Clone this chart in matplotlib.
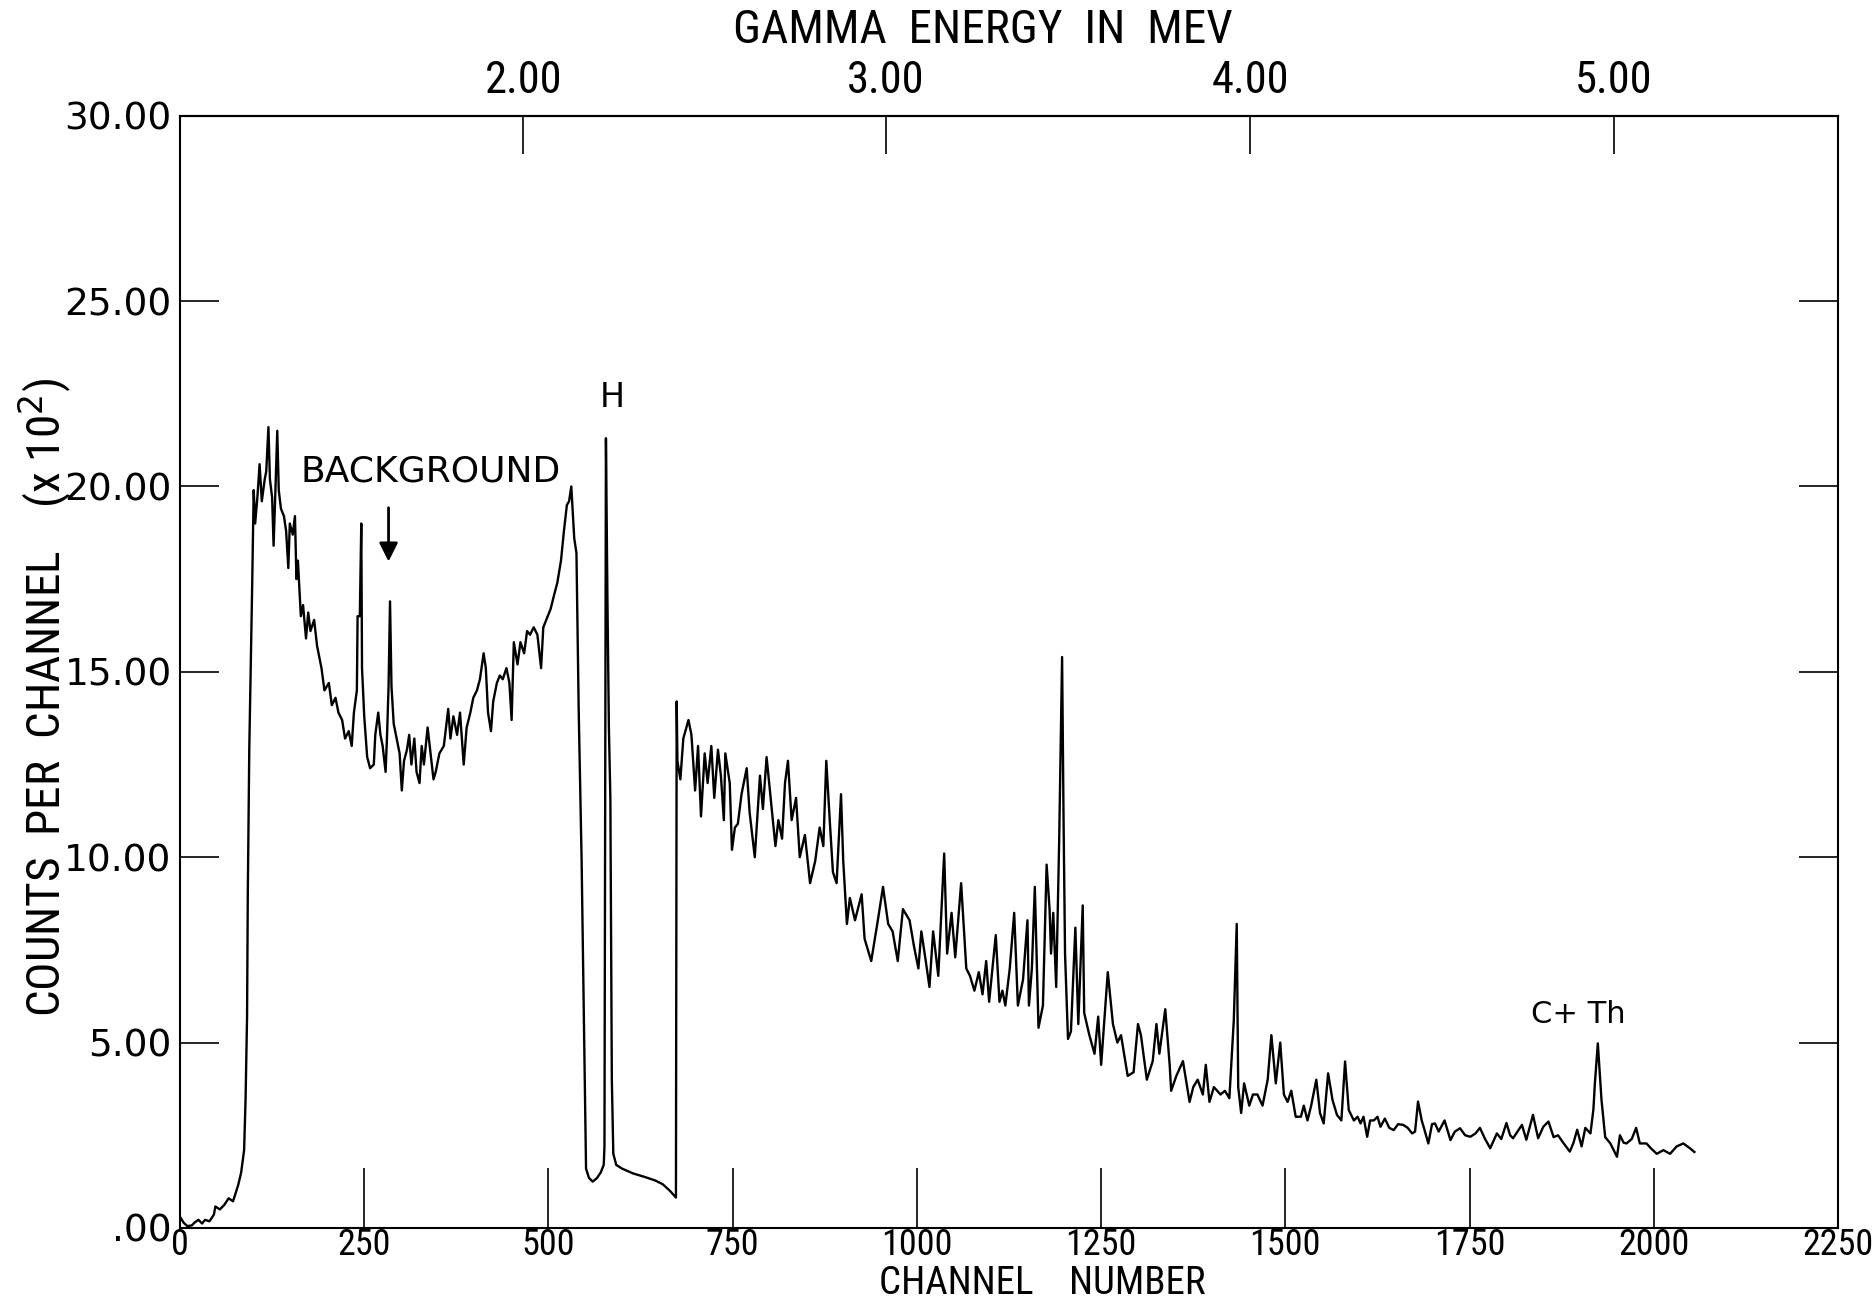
import os
import matplotlib
matplotlib.use('Agg')
import matplotlib.pyplot as plt
import matplotlib.font_manager as fm
from matplotlib.ticker import FixedLocator, FixedFormatter

# spectrum (channel, counts per channel / 100)
channels = [0, 5, 10, 16, 20, 25, 30, 34, 40, 46, 48, 54, 60, 66, 72, 79, 83, 87, 89, 91, 92,
            94, 96, 98, 100, 102, 105, 108, 111, 115, 117, 120, 122, 125, 127, 129, 132, 134, 137, 141, 144,
            147, 149, 153, 156, 158, 160, 164, 167, 171, 174, 177, 182, 186, 192, 196, 202, 206, 211, 215, 220,
            224, 229, 233, 236, 240, 241, 244, 246, 247, 250, 254, 258, 263, 265, 269, 272, 275, 279, 281, 283,
            285, 287, 290, 294, 298, 301, 304, 308, 311, 314, 318, 321, 325, 328, 331, 336, 340, 344, 347, 352,
            358, 364, 367, 371, 376, 380, 385, 389, 394, 398, 403, 407, 412, 415, 418, 422, 425, 430, 434, 438,
            443, 447, 450, 453, 458, 462, 467, 471, 475, 480, 485, 490, 493, 499, 503, 508, 512, 517, 521, 525,
            528, 531, 533, 535, 538, 541, 545, 551, 555, 560, 566, 571, 575, 576, 578, 580, 582, 584, 586, 588,
            592, 600, 615, 630, 645, 655, 665, 673, 674, 675, 679, 683, 690, 694, 699, 703, 707, 712, 716, 721,
            725, 730, 734, 738, 740, 746, 749, 753, 757, 762, 769, 773, 780, 787, 791, 796, 803, 808, 812, 817,
            821, 825, 830, 836, 841, 848, 855, 862, 868, 873, 877, 882, 886, 891, 897, 900, 905, 909, 916, 925,
            929, 938, 947, 954, 961, 967, 974, 981, 990, 996, 1002, 1006, 1012, 1017, 1022, 1029, 1037, 1041, 1047, 1052,
            1060, 1067, 1072, 1078, 1084, 1089, 1094, 1098, 1107, 1112, 1116, 1120, 1126, 1132, 1137, 1144, 1150, 1152, 1156, 1160,
            1165, 1171, 1176, 1180, 1182, 1185, 1189, 1193, 1197, 1199, 1201, 1205, 1209, 1215, 1219, 1225, 1227, 1234, 1241, 1246,
            1250, 1259, 1266, 1272, 1277, 1286, 1294, 1300, 1304, 1312, 1320, 1325, 1329, 1337, 1343, 1345, 1352, 1361, 1370, 1375,
            1381, 1388, 1392, 1397, 1403, 1412, 1418, 1424, 1430, 1434, 1436, 1440, 1444, 1451, 1456, 1462, 1469, 1476, 1481, 1487,
            1493, 1498, 1503, 1508, 1514, 1521, 1525, 1530, 1535, 1542, 1547, 1552, 1558, 1564, 1570, 1576, 1581, 1586, 1593, 1598,
            1602, 1606, 1611, 1615, 1620, 1625, 1629, 1635, 1641, 1647, 1653, 1660, 1666, 1672, 1676, 1680, 1685, 1688, 1694, 1699,
            1703, 1708, 1712, 1716, 1724, 1730, 1737, 1744, 1751, 1758, 1764, 1771, 1778, 1787, 1793, 1800, 1805, 1809, 1815, 1821,
            1827, 1836, 1843, 1850, 1857, 1864, 1870, 1877, 1886, 1891, 1896, 1902, 1907, 1914, 1918, 1920, 1924, 1929, 1934, 1941,
            1950, 1954, 1959, 1963, 1970, 1976, 1981, 1990, 1996, 2004, 2013, 2022, 2031, 2040, 2049, 2055]
counts = [0.3, 0.14, 0.05, 0.07, 0.15, 0.22, 0.12, 0.22, 0.18, 0.36, 0.58, 0.5, 0.62, 0.8, 0.72, 1.16, 1.5, 2.1, 3.5, 5.7, 9.0,
          12.9, 15.1, 17.4, 19.9, 19.0, 19.7, 20.6, 19.6, 20.2, 20.4, 21.6, 20.2, 19.7, 18.4, 19.6, 21.5, 19.9, 19.4, 19.2, 18.8,
          17.8, 19.0, 18.7, 19.2, 17.5, 18.0, 16.5, 16.8, 15.9, 16.6, 16.1, 16.4, 15.7, 15.1, 14.5, 14.7, 14.1, 14.3, 13.9, 13.7,
          13.2, 13.4, 13.0, 13.9, 14.5, 16.5, 16.5, 19.0, 15.1, 13.8, 12.7, 12.4, 12.5, 13.3, 13.9, 13.3, 13.0, 12.3, 13.3, 14.6,
          16.9, 14.6, 13.6, 13.2, 12.8, 11.8, 12.6, 12.9, 13.3, 12.5, 13.2, 12.3, 12.0, 13.0, 12.5, 13.5, 12.8, 12.1, 12.3, 12.8,
          13.0, 14.0, 13.2, 13.8, 13.3, 13.9, 12.5, 13.5, 13.9, 14.3, 14.5, 14.8, 15.5, 15.1, 13.9, 13.4, 14.2, 14.7, 14.9, 14.8,
          15.1, 14.7, 13.7, 15.8, 15.2, 15.8, 15.5, 16.1, 16.0, 16.2, 16.0, 15.1, 16.2, 16.5, 16.7, 17.1, 17.4, 18.0, 18.8, 19.5,
          19.6, 20.0, 19.3, 18.6, 18.2, 14.0, 9.9, 1.6, 1.35, 1.25, 1.35, 1.5, 1.7, 2.2, 21.3, 17.0, 13.5, 11.6, 4.0, 2.0,
          1.7, 1.6, 1.47, 1.38, 1.28, 1.18, 1.0, 0.82, 14.2, 12.6, 12.1, 13.2, 13.7, 13.3, 11.8, 13.0, 11.1, 12.8, 12.0, 13.0,
          11.6, 12.9, 12.2, 11.0, 12.8, 12.0, 10.2, 10.8, 10.9, 11.7, 12.4, 11.2, 10.0, 12.2, 11.3, 12.7, 11.3, 10.3, 11.0, 10.5,
          12.0, 12.6, 11.0, 11.6, 10.0, 10.6, 9.3, 9.9, 10.8, 10.3, 12.6, 10.9, 9.6, 9.3, 11.7, 9.9, 8.2, 8.9, 8.3, 9.0,
          7.8, 7.2, 8.3, 9.2, 8.2, 8.0, 7.2, 8.6, 8.3, 7.6, 7.0, 8.0, 7.2, 6.5, 8.0, 6.8, 10.1, 7.4, 8.5, 7.3,
          9.3, 7.0, 6.8, 6.4, 6.9, 6.3, 7.2, 6.1, 7.9, 6.1, 6.4, 6.0, 7.0, 8.5, 6.0, 6.7, 8.3, 6.0, 7.0, 9.2,
          5.4, 6.0, 9.8, 8.6, 7.4, 8.5, 6.5, 10.4, 15.4, 11.0, 7.4, 5.1, 5.3, 8.1, 5.5, 8.7, 5.8, 5.2, 4.7, 5.7,
          4.4, 6.9, 5.5, 5.0, 5.2, 4.1, 4.2, 5.5, 5.2, 4.0, 4.5, 5.5, 4.7, 5.9, 4.4, 3.7, 4.1, 4.5, 3.4, 3.8,
          4.0, 3.6, 4.4, 3.4, 3.8, 3.6, 3.7, 3.5, 5.6, 8.2, 3.8, 3.1, 3.9, 3.3, 3.6, 3.6, 3.3, 4.0, 5.2, 3.9,
          5.0, 3.6, 3.4, 3.7, 3.0, 3.0, 3.3, 2.9, 3.3, 4.0, 3.1, 2.82, 4.17, 3.45, 3.05, 2.9, 4.49, 3.18, 2.9, 3.0,
          2.82, 3.0, 2.46, 2.9, 2.9, 3.0, 2.73, 2.95, 2.7, 2.64, 2.8, 2.78, 2.7, 2.55, 2.6, 3.41, 2.9, 2.7, 2.28, 2.8,
          2.82, 2.6, 2.75, 2.9, 2.37, 2.6, 2.69, 2.5, 2.46, 2.55, 2.7, 2.4, 2.15, 2.55, 2.4, 2.83, 2.5, 2.42, 2.6, 2.78,
          2.38, 3.05, 2.42, 2.73, 2.87, 2.45, 2.5, 2.3, 2.06, 2.3, 2.65, 2.2, 2.7, 2.55, 3.2, 3.9, 4.98, 3.45, 2.45, 2.28,
          1.92, 2.5, 2.3, 2.28, 2.4, 2.7, 2.28, 2.28, 2.15, 2.0, 2.1, 2.0, 2.2, 2.28, 2.15, 2.05]

x_ticks = [0, 250, 500, 750, 1000, 1250, 1500, 1750, 2000, 2250]
y_ticks = [0, 5, 10, 15, 20, 25, 30]
y_labels = ['.00', '5.00', '10.00', '15.00', '20.00', '25.00', '30.00']
energy_labels = ['2.00', '3.00', '4.00', '5.00']
energy_channels = [466, 958, 1452, 1946]


def find_narrow():
    # look for a condensed face, the lettering on the original is tall and thin
    wanted = ['LiberationSansNarrow-Regular', 'RobotoCondensed-Regular', 'DejaVuSansCondensed.',
              'NotoSans-Condensed.', 'OpenSans-CondensedRegular', 'OpenSans_Condensed-Regular']
    files = [f.fname for f in fm.fontManager.ttflist]
    for w in wanted:
        for fn in files:
            if w in os.path.basename(fn):
                return fn
    return None


narrow_file = find_narrow()


def narrow_font(size):
    if narrow_file:
        return fm.FontProperties(fname=narrow_file, size=size)
    return fm.FontProperties(family='DejaVu Sans', size=size * 0.8)


fig = plt.figure(figsize=(18.75, 13.04), dpi=100)
ax = fig.add_axes([0.096, 0.0583, 0.8843, 0.853])

ax.plot(channels, counts, color='black', lw=1.7)

ax.set_xlim(0, 2250)
ax.set_ylim(0, 30)

for s in ax.spines.values():
    s.set_linewidth(1.5)

ax.xaxis.set_major_locator(FixedLocator(x_ticks))
ax.tick_params(axis='x', direction='in', length=43, width=1.2, pad=-1,
               bottom=True, top=False)
for lab in ax.get_xticklabels():
    lab.set_fontproperties(narrow_font(26))

ax.yaxis.set_major_locator(FixedLocator(y_ticks))
ax.yaxis.set_major_formatter(FixedFormatter(y_labels))
ax.tick_params(axis='y', direction='in', length=28, width=1.2, pad=6,
               labelsize=27, left=True, right=True)

# energy scale on top
top = ax.secondary_xaxis('top')
top.xaxis.set_major_locator(FixedLocator(energy_channels))
top.xaxis.set_major_formatter(FixedFormatter(energy_labels))
top.tick_params(direction='in', length=27, width=1.2, pad=10)
for lab in top.get_xticklabels():
    lab.set_fontproperties(narrow_font(32))
top.spines['top'].set_linewidth(1.5)

fig.text(0.556, 0.0075, 'CHANNEL    NUMBER', fontproperties=narrow_font(28),
         ha='center', va='baseline')
fig.text(0.524, 0.977, 'GAMMA  ENERGY  IN  MEV', fontproperties=narrow_font(34),
         ha='center', va='center')
fig.text(0.024, 0.465, 'COUNTS  PER  CHANNEL    (x 10$^2$)', fontproperties=narrow_font(34),
         rotation=90, ha='center', va='center')

# annotations
ax.text(340, 20.4, 'BACKGROUND', fontsize=26, ha='center', va='center')
ax.annotate('', xy=(283, 17.9), xytext=(283, 19.5),
            arrowprops=dict(arrowstyle='-|>', lw=2, color='black', mutation_scale=28))
ax.text(586, 22.4, 'H', fontsize=24, ha='center', va='center')
ax.text(1898, 5.75, 'C+ Th', fontsize=22, ha='center', va='center')

fig.savefig('out.png', dpi=100)
